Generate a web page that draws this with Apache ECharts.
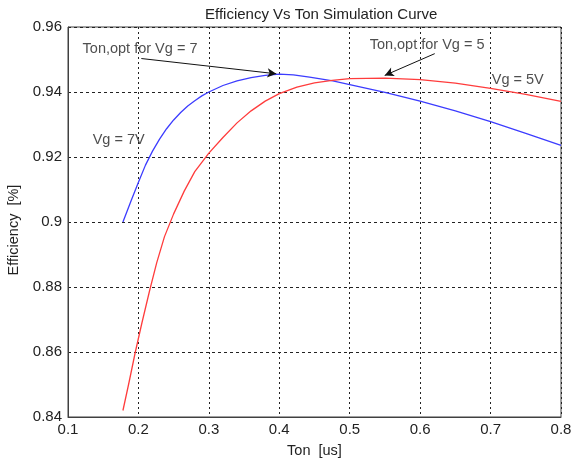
<!DOCTYPE html>
<html>
<head>
<meta charset="utf-8">
<script src="https://cdn.jsdelivr.net/npm/echarts@6/dist/echarts.min.js"></script>
<style>
html,body{margin:0;padding:0;background:#fff;}
#chart{width:573px;height:466px;}
</style>
</head>
<body>
<div id="chart"></div>
<script>
// Data
var tonVg7 = [0.178, 0.19, 0.20, 0.21, 0.22, 0.23, 0.24, 0.25, 0.26, 0.27, 0.28, 0.29, 0.30, 0.32, 0.34, 0.36, 0.38, 0.40, 0.42, 0.443, 0.476, 0.50, 0.55, 0.60, 0.65, 0.70, 0.75, 0.80];
var effVg7 = [0.900, 0.9068, 0.9122, 0.9175, 0.9218, 0.9255, 0.9287, 0.9314, 0.9337, 0.9357, 0.9373, 0.9388, 0.940, 0.942, 0.9434, 0.9444, 0.9451, 0.9455, 0.9453, 0.9446, 0.9434, 0.9423, 0.9399, 0.9372, 0.9342, 0.9309, 0.9273, 0.9236];
var tonVg5 = [0.178, 0.186, 0.1956, 0.205, 0.216, 0.226, 0.237, 0.25, 0.265, 0.28, 0.30, 0.32, 0.34, 0.36, 0.38, 0.40, 0.425, 0.45, 0.475, 0.50, 0.55, 0.60, 0.65, 0.70, 0.75, 0.80];
var effVg5 = [0.842, 0.850, 0.860, 0.869, 0.879, 0.8875, 0.8955, 0.9025, 0.9095, 0.9155, 0.9212, 0.926, 0.9305, 0.9342, 0.9372, 0.9395, 0.9415, 0.9428, 0.9436, 0.9441, 0.9443, 0.9438, 0.9427, 0.9411, 0.9393, 0.9371];

var xTicks = ['0.1', '0.2', '0.3', '0.4', '0.5', '0.6', '0.7', '0.8'];
var yTicks = ['0.84', '0.86', '0.88', '0.9', '0.92', '0.94', '0.96'];

var noteTexts = ['Ton,opt for Vg = 7', 'Ton,opt for Vg = 5', 'Vg = 5V', 'Vg = 7V'];
var noteX = [0.1207, 0.5283, 0.7017, 0.135];
var noteY = [0.9531, 0.9544, 0.9436, 0.9251];

var arrow7From = [0.2041, 0.9503], arrow7To = [0.3958, 0.9456];
var arrow5From = [0.6207, 0.9518], arrow5To = [0.5497, 0.9451];

function pairs(xs, ys) { return xs.map(function (x, i) { return [x, ys[i]]; }); }

var font = 'Liberation Sans, Arial, sans-serif';
var chart = echarts.init(document.getElementById('chart'));
chart.setOption({
  animation: false,
  backgroundColor: '#fff',
  title: {
    text: 'Efficiency Vs Ton Simulation Curve',
    left: 200, top: 2,
    textStyle: { fontFamily: font, fontSize: 15, fontWeight: 'normal', color: '#222' }
  },
  grid: { left: 68, right: 12, top: 27, bottom: 49, show: true, borderColor: '#404040', borderWidth: 1,
    containLabel: false, outerBoundsMode: 'none' },
  xAxis: {
    type: 'value', min: 0.1, max: 0.8, interval: 0.1,
    name: 'Ton  [us]', nameLocation: 'middle', nameGap: 26,
    nameTextStyle: { fontFamily: font, fontSize: 14.5, color: '#222' },
    axisLine: { show: true, lineStyle: { color: '#404040', width: 1 } },
    axisTick: { show: false },
    axisLabel: { margin: 5, fontFamily: font, fontSize: 15, color: '#222',
      formatter: function (v) { var i = Math.round((v - 0.1) / 0.1); return xTicks[i]; } },
    splitLine: { show: true, lineStyle: { color: '#222', type: [2, 3], width: 1 } }
  },
  yAxis: {
    type: 'value', min: 0.84, max: 0.96, interval: 0.02,
    name: 'Efficiency  [%]', nameLocation: 'middle', nameGap: 47,
    nameTextStyle: { fontFamily: font, fontSize: 14.5, color: '#222', padding: [0, 16, 0, 0] },
    axisLine: { show: true, lineStyle: { color: '#404040', width: 1 } },
    axisTick: { show: false },
    axisLabel: { margin: 6, fontFamily: font, fontSize: 15, color: '#222',
      formatter: function (v) { var i = Math.round((v - 0.84) / 0.02); return yTicks[i]; } },
    splitLine: { show: true, lineStyle: { color: '#222', type: [3, 3], width: 1 } }
  },
  series: [
    {
      name: 'Vg = 7V', type: 'line', data: pairs(tonVg7, effVg7), smooth: false,
      showSymbol: false, lineStyle: { color: '#3c3cff', width: 1.3 }, z: 3
    },
    {
      name: 'Vg = 5V', type: 'line', data: pairs(tonVg5, effVg5), smooth: false,
      showSymbol: false, lineStyle: { color: '#ff3c3c', width: 1.3 }, z: 3
    },
    {
      name: 'notes', type: 'scatter', symbolSize: 0, z: 5,
      data: noteTexts.map(function (t, i) { return { value: [noteX[i], noteY[i]], name: t }; }),
      label: { show: true, position: 'right', distance: 0, formatter: '{b}',
        fontFamily: font, fontSize: 14.5, color: '#222' },
      markLine: {
        silent: true, symbol: ['none', 'arrow'], symbolSize: [7, 9],
        lineStyle: { color: '#111', width: 1, type: 'solid' },
        label: { show: false },
        data: [
          [{ coord: arrow7From }, { coord: arrow7To }],
          [{ coord: arrow5From }, { coord: arrow5To }]
        ]
      }
    }
  ]
});
</script>
</body>
</html>
